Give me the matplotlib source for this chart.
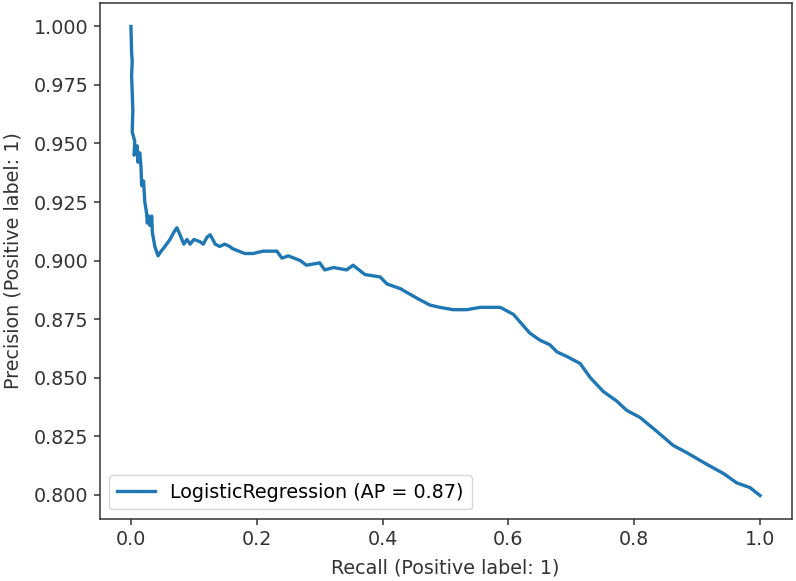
import matplotlib
matplotlib.use("Agg")
import matplotlib.pyplot as plt

# Precision-recall curve values
recall = [0.000, 0.001, 0.002, 0.001, 0.002, 0.003, 0.002, 0.006, 0.005, 0.010,
          0.011, 0.014, 0.016, 0.017, 0.020, 0.022, 0.025, 0.026, 0.028, 0.030,
          0.033, 0.034, 0.038, 0.043, 0.048, 0.054, 0.062, 0.068, 0.073, 0.078,
          0.084, 0.089, 0.094, 0.100, 0.110, 0.115, 0.121, 0.126, 0.134, 0.141,
          0.149, 0.157, 0.162, 0.181, 0.194, 0.210, 0.232, 0.240, 0.250, 0.269,
          0.279, 0.300, 0.308, 0.322, 0.343, 0.353, 0.372, 0.396, 0.407, 0.428,
          0.454, 0.475, 0.491, 0.512, 0.534, 0.555, 0.576, 0.587, 0.608, 0.621,
          0.634, 0.650, 0.666, 0.677, 0.693, 0.714, 0.730, 0.751, 0.772, 0.788,
          0.809, 0.836, 0.862, 0.883, 0.915, 0.942, 0.963, 0.984, 1.000]
precision = [1.000, 0.989, 0.985, 0.979, 0.972, 0.964, 0.955, 0.951, 0.945, 0.949,
             0.942, 0.946, 0.940, 0.932, 0.934, 0.925, 0.920, 0.916, 0.919, 0.915,
             0.919, 0.912, 0.906, 0.902, 0.904, 0.906, 0.909, 0.912, 0.914, 0.911,
             0.907, 0.909, 0.907, 0.909, 0.908, 0.907, 0.910, 0.911, 0.907, 0.906,
             0.907, 0.906, 0.905, 0.903, 0.903, 0.904, 0.904, 0.901, 0.902, 0.900,
             0.898, 0.899, 0.896, 0.897, 0.896, 0.898, 0.894, 0.893, 0.890, 0.888,
             0.884, 0.881, 0.880, 0.879, 0.879, 0.880, 0.880, 0.880, 0.877, 0.873,
             0.869, 0.866, 0.864, 0.861, 0.859, 0.856, 0.850, 0.844, 0.840, 0.836,
             0.833, 0.827, 0.821, 0.818, 0.813, 0.809, 0.805, 0.803, 0.7996]
label = "LogisticRegression (AP = 0.87)"
xlabel = "Recall (Positive label: 1)"
ylabel = "Precision (Positive label: 1)"
yticks = [0.800, 0.825, 0.850, 0.875, 0.900, 0.925, 0.950, 0.975, 1.000]
xticks = [0.0, 0.2, 0.4, 0.6, 0.8, 1.0]

fs = 13.8
plt.rcParams['font.family'] = ['DejaVu Sans']
fig = plt.figure(figsize=(7.96, 5.81), dpi=100)
ax = fig.add_axes([99.5/796, 1 - 519/581, 692/796, 516/581])
ax.plot(recall, precision, color="#1f77b4", lw=2.4, label=label)
ax.set_xticks(xticks)
ax.set_yticks(yticks)
ax.set_yticklabels([f"{v:.3f}" for v in yticks])
ax.set_xticklabels([f"{v:.1f}" for v in xticks])
ax.tick_params(labelsize=fs, length=4.4, width=1.1, colors="#333333", labelcolor="#333333")
for s in ax.spines.values():
    s.set_linewidth(1.1)
    s.set_color("#333333")
ax.set_xlabel(xlabel, fontsize=fs, color="#333333", labelpad=7)
ax.set_ylabel(ylabel, fontsize=fs, color="#333333", labelpad=8)
ax.legend(loc="lower left", fontsize=fs, handlelength=2.0)
fig.savefig("out.png", dpi=100)
